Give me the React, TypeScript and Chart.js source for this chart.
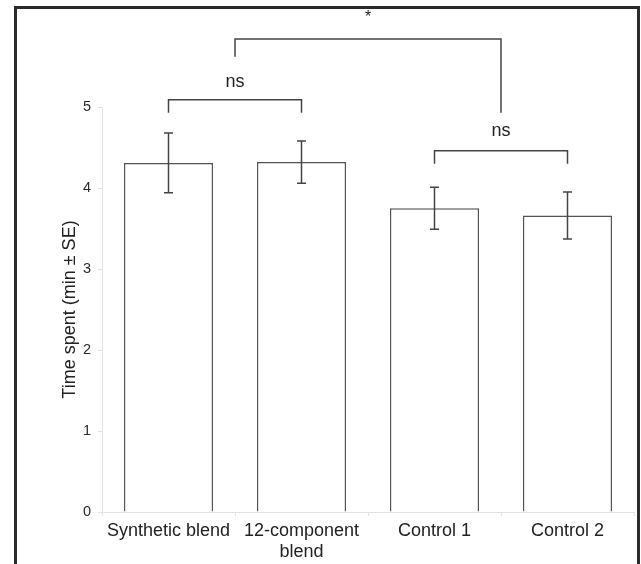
import React, { useEffect, useRef } from "react";
import { Chart, registerables } from "chart.js";

Chart.register(...registerables);

const categories: (string | string[])[] = ["Synthetic blend", ["12-component", "blend"], "Control 1", "Control 2"];
const meanTime = [4.31, 4.32, 3.75, 3.66];
const seTime = [0.37, 0.26, 0.26, 0.29];
const yTicks = [0, 1, 2, 3, 4, 5];

// significance brackets (category index positions, y values)
const bracketFrom = [0, 0.5, 2];
const bracketTo = [1, 2.5, 3];
const bracketTop = [5.09, 5.84, 4.46];
const bracketFromEnd = [4.93, 5.62, 4.3];
const bracketToEnd = [4.93, 4.93, 4.3];
const bracketText = ["ns", "*", "ns"];
const bracketTextY = [5.31, 6.1, 4.7];

const FONT = "'Liberation Sans', Arial, sans-serif";

const annotPlugin = {
  id: "annot",
  afterDatasetsDraw(chart: any) {
    const ctx = chart.ctx;
    const xs = chart.scales.x;
    const ys = chart.scales.y;
    ctx.save();
    // error bars
    ctx.strokeStyle = "#444";
    ctx.lineWidth = 1.5;
    meanTime.forEach((m, i) => {
      const x = xs.getPixelForValue(i);
      const yT = ys.getPixelForValue(m + seTime[i]);
      const yB = ys.getPixelForValue(m - seTime[i]);
      ctx.beginPath();
      ctx.moveTo(x, yT);
      ctx.lineTo(x, yB);
      ctx.moveTo(x - 4.5, yT);
      ctx.lineTo(x + 4.5, yT);
      ctx.moveTo(x - 4.5, yB);
      ctx.lineTo(x + 4.5, yB);
      ctx.stroke();
    });
    // brackets
    ctx.strokeStyle = "#444";
    ctx.lineWidth = 1.5;
    bracketFrom.forEach((f, i) => {
      const x1 = xs.getPixelForValue(f);
      const x2 = xs.getPixelForValue(bracketTo[i]);
      const yt = ys.getPixelForValue(bracketTop[i]);
      ctx.beginPath();
      ctx.moveTo(x1, ys.getPixelForValue(bracketFromEnd[i]));
      ctx.lineTo(x1, yt);
      ctx.lineTo(x2, yt);
      ctx.lineTo(x2, ys.getPixelForValue(bracketToEnd[i]));
      ctx.stroke();
      ctx.fillStyle = "#222";
      ctx.textAlign = "center";
      ctx.textBaseline = "middle";
      ctx.font = bracketText[i] === "*" ? `16px ${FONT}` : `18px ${FONT}`;
      ctx.fillText(bracketText[i], (x1 + x2) / 2, ys.getPixelForValue(bracketTextY[i]));
    });
    ctx.restore();
  },
};

export default function App() {
  const ref = useRef<HTMLCanvasElement | null>(null);
  useEffect(() => {
    if (!ref.current) return;
    const chart = new Chart(ref.current, {
      type: "bar",
      data: {
        labels: categories as any,
        datasets: [
          {
            data: meanTime,
            backgroundColor: "#ffffff",
            borderColor: "#555555",
            borderWidth: 1.5,
            barPercentage: 0.67,
            categoryPercentage: 1,
          },
        ],
      },
      options: {
        animation: false,
        responsive: false,
        devicePixelRatio: 1,
        layout: { padding: { top: 107, right: 7, left: 0, bottom: 0 } },
        plugins: { legend: { display: false }, tooltip: { enabled: false } },
        scales: {
          x: {
            afterFit(scale: any) {
              scale.height = 52;
            },
            grid: { display: true, drawOnChartArea: false, drawTicks: true, tickLength: 4, color: "#e2e2e2", offset: true },
            border: { display: true, color: "#e2e2e2" },
            ticks: { color: "#222", padding: 4, font: { family: FONT, size: 18, lineHeight: 1.2 }, maxRotation: 0, autoSkip: false },
          },
          y: {
            min: 0,
            max: 5,
            afterFit(scale: any) {
              scale.width = 102;
            },
            afterBuildTicks(scale: any) {
              scale.ticks = yTicks.map((v) => ({ value: v }));
            },
            grid: { display: true, drawOnChartArea: false, drawTicks: true, tickLength: 4, color: "#e2e2e2" },
            border: { display: true, color: "#e2e2e2" },
            ticks: { color: "#2a2a2a", padding: 7, font: { family: FONT, size: 14.5 } },
            title: {
              display: true,
              text: "Time spent (min ± SE)",
              color: "#222",
              font: { family: FONT, size: 18 },
              padding: { top: 59, bottom: 0 },
            },
          },
        },
      },
      plugins: [annotPlugin],
    });
    return () => chart.destroy();
  }, []);
  return (
    <div style={{ position: "absolute", left: 0, top: 0, width: 641, height: 564, overflow: "hidden", background: "#fff" }}>
      <canvas ref={ref} width={641} height={564} style={{ position: "absolute", left: 0, top: 0, width: 641, height: 564 }} />
      <div
        style={{
          position: "absolute",
          left: 14,
          top: 6,
          width: 626,
          height: 558,
          boxSizing: "border-box",
          borderTop: "3px solid #2b2b2b",
          borderLeft: "3px solid #2b2b2b",
          borderRight: "3px solid #2b2b2b",
          borderBottom: "none",
          pointerEvents: "none",
        }}
      />
    </div>
  );
}
